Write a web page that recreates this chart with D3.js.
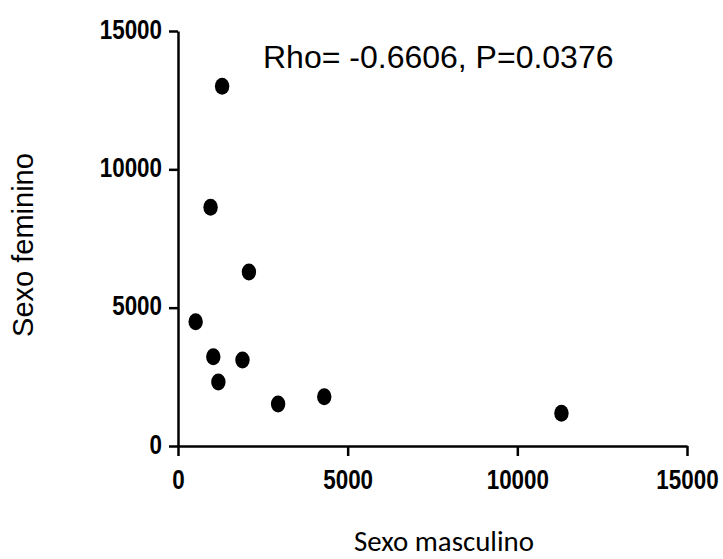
<!DOCTYPE html>
<html>
<head>
<meta charset="utf-8">
<script src="https://cdn.jsdelivr.net/npm/d3@7"></script>
<style>
  html, body { margin: 0; padding: 0; background: #fff; }
  svg { display: block; }
</style>
</head>
<body>
<svg id="chart" width="723" height="559"></svg>
<script>
// Data
const masculino = [1300, 960, 2090, 520, 1040, 1900, 1190, 2950, 4310, 11300];
const feminino  = [13000, 8630, 6290, 4490, 3230, 3110, 2310, 1520, 1780, 1180];
const xTicks = [0, 5000, 10000, 15000];
const yTicks = [0, 5000, 10000, 15000];
const annotation = "Rho= -0.6606, P=0.0376";
const xTitle = "Sexo masculino";
const yTitle = "Sexo feminino";

const svg = d3.select("#chart");
const x = d3.scaleLinear().domain([0, 15000]).range([178, 687]);
const y = d3.scaleLinear().domain([0, 15000]).range([446, 31]);

const tickFont = "'Liberation Sans', Arial, sans-serif";

// Y axis
const gy = svg.append("g").attr("transform", `translate(${x(0)},0)`)
  .call(d3.axisLeft(y).tickValues(yTicks).tickFormat(d3.format("d")).tickSize(9).tickSizeOuter(0));
// X axis
const gx = svg.append("g").attr("transform", `translate(0,${y(0)})`)
  .call(d3.axisBottom(x).tickValues(xTicks).tickFormat(d3.format("d")).tickSize(10).tickSizeOuter(0));

[gy, gx].forEach(g => {
  g.selectAll("path.domain").attr("stroke", "#000").attr("stroke-width", 2.5);
  g.selectAll(".tick line").attr("stroke", "#000").attr("stroke-width", 2.5);
});

gy.selectAll(".tick text")
  .attr("x", null).attr("dy", null)
  .attr("transform", "translate(-16,7) scale(0.8,1)")
  .attr("text-anchor", "end")
  .attr("font-family", tickFont).attr("font-weight", "bold").attr("font-size", 28)
  .attr("fill", "#000");

gx.selectAll(".tick text")
  .attr("y", null).attr("dy", null)
  .attr("transform", "translate(0,43) scale(0.8,1)")
  .attr("text-anchor", "middle")
  .attr("font-family", tickFont).attr("font-weight", "bold").attr("font-size", 28)
  .attr("fill", "#000");

// Points
const pts = masculino.map((m, i) => ({ m, f: feminino[i] }));
svg.append("g").selectAll("ellipse").data(pts).enter().append("ellipse")
  .attr("cx", d => x(d.m)).attr("cy", d => y(d.f))
  .attr("rx", 7.2).attr("ry", 8.5).attr("fill", "#000");

// Annotation
svg.append("text").attr("x", 263).attr("y", 68)
  .attr("font-family", tickFont).attr("font-size", 32).attr("fill", "#000")
  .text(annotation);

// X title
const xt = svg.append("text").attr("x", 444).attr("y", 551)
  .attr("text-anchor", "middle")
  .attr("font-family", "Carlito, Calibri, Lato, 'Open Sans', sans-serif")
  .attr("font-size", 26).attr("fill", "#000").text(xTitle);
const w = xt.node().getComputedTextLength();
if (w > 0) xt.attr("font-size", 26 * 180 / w);

// Y title
svg.append("text")
  .attr("transform", "translate(33,245) rotate(-90)")
  .attr("text-anchor", "middle")
  .attr("font-family", tickFont).attr("font-size", 29).attr("fill", "#000")
  .text(yTitle);
</script>
</body>
</html>
